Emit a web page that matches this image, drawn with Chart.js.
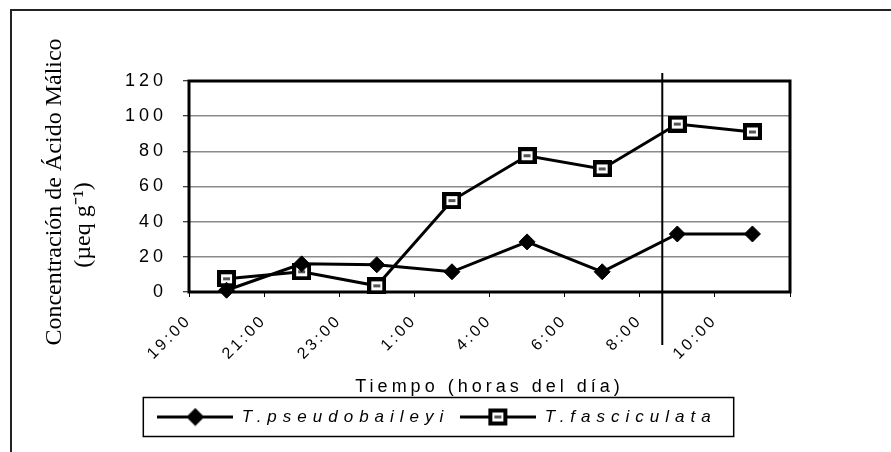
<!DOCTYPE html>
<html>
<head>
<meta charset="utf-8">
<script src="https://cdn.jsdelivr.net/npm/chart.js@4.4.0/dist/chart.umd.min.js"></script>
<style>
  html, body { margin: 0; padding: 0; background: #fff; overflow: hidden; }
  #frame { position: absolute; left: 10px; top: 9px; width: 1000px; height: 1000px;
           border-top: 2px solid #222; border-left: 2px solid #222; }
  #chart { position: absolute; left: 0; top: 0; }
</style>
</head>
<body>
<div id="frame"></div>
<canvas id="chart" width="891" height="452"></canvas>
<script>
// hours of the day (x categories)
const timeLabels = ['19:00', '21:00', '23:00', '1:00', '4:00', '6:00', '8:00', '10:00'];
// malic acid
const pseudobaileyi = [1, 16, 15.5, 11.5, 28.5, 11.5, 33, 33];
const fasciculata = [7.5, 11.5, 3.5, 52, 77.5, 70, 95.5, 91];
const yTicks = [0, 20, 40, 60, 80, 100, 120];
const seriesNames = ['T.pseudobaileyi', 'T.fasciculata'];
const yTitle = ['Concentración de Ácido Málico', '(µeq g⁻¹)'];
const xTitle = 'Tiempo (horas del día)';
// vertical marker between 8:00 and 10:00, in x scale units
const markerAt = 6.3;

Chart.defaults.font.family = '"Liberation Sans", Arial, sans-serif';
Chart.defaults.color = '#000';

// open square marker used by T.fasciculata
function squareMarker() {
    let c = document.createElement('canvas');
    c.width = 19; c.height = 17;
    let g = c.getContext('2d');
    g.fillStyle = '#000'; g.fillRect(0, 0, 19, 17);
    g.fillStyle = '#fff'; g.fillRect(4, 4, 11, 9);
    g.fillStyle = '#555'; g.fillRect(6, 7, 7, 3);
    return c;
}
const square = squareMarker();

// legend swatch: a piece of line with the marker on it
function legendIcon(marker) {
    let c = document.createElement('canvas');
    c.width = 76; c.height = 19;
    let g = c.getContext('2d');
    g.strokeStyle = '#000'; g.lineWidth = 3;
    g.beginPath(); g.moveTo(0, 9.5); g.lineTo(76, 9.5); g.stroke();
    if (marker === 'diamond') {
        g.fillStyle = '#000';
        g.beginPath();
        g.moveTo(29, 9.5); g.lineTo(38, 0.5); g.lineTo(47, 9.5); g.lineTo(38, 18.5);
        g.closePath(); g.fill();
    } else {
        g.drawImage(marker, 28, 1);
    }
    return c;
}
const legendIcons = [legendIcon('diamond'), legendIcon(square)];

function withSpacing(obj, name, spacing) {
    let orig = obj[name];
    obj[name] = function() {
        let prev = this.ctx.letterSpacing;
        this.ctx.letterSpacing = spacing;
        let r = orig.apply(this, arguments);
        this.ctx.letterSpacing = prev;
        return r;
    };
}

const decor = {
    id: 'decor',
    beforeLayout(chart) {
        chart.ctx.letterSpacing = '4px';
        if (chart.legend && !chart.legend._spaced) {
            withSpacing(chart.legend, 'fit', '6px');
            withSpacing(chart.legend, 'draw', '6px');
            chart.legend._spaced = true;
        }
    },
    beforeDraw(chart) {
        chart.ctx.letterSpacing = '4px';
        let xs = chart.scales.x;
        if (xs && !xs._spaced) {
            withSpacing(xs, 'drawLabels', '3px');
            xs._spaced = true;
        }
    },
    beforeDatasetsDraw(chart) {
        let ctx = chart.ctx, a = chart.chartArea;
        ctx.save();
        ctx.strokeStyle = '#000';
        ctx.lineWidth = 3;
        ctx.strokeRect(a.left, a.top, a.right - a.left, a.bottom - a.top);
        let x = chart.scales.x.getPixelForValue(markerAt);
        ctx.lineWidth = 2;
        ctx.beginPath();
        ctx.moveTo(x, a.top - 8);
        ctx.lineTo(x, a.bottom + 53);
        ctx.stroke();
        ctx.restore();
    },
    afterDraw(chart) {
        let ctx = chart.ctx;
        // box round the legend
        let boxes = chart.legend.legendHitBoxes;
        let first = boxes[0], last = boxes[boxes.length - 1];
        ctx.save();
        ctx.strokeStyle = '#000';
        ctx.lineWidth = 1.5;
        ctx.strokeRect(first.left - 14, first.top - 11,
            last.left + last.width + 17 - (first.left - 14), first.height + 22);
        // y axis title, serif, two lines
        ctx.letterSpacing = '0px';
        ctx.font = '24px "Liberation Serif", "Times New Roman", serif';
        ctx.fillStyle = '#000';
        ctx.textAlign = 'center';
        ctx.textBaseline = 'alphabetic';
        ctx.translate(61, 192);
        ctx.rotate(-Math.PI / 2);
        ctx.fillText(yTitle[0], 0, 0);
        ctx.rotate(Math.PI / 2);
        ctx.translate(29, 33);
        ctx.rotate(-Math.PI / 2);
        ctx.fillText(yTitle[1], 0, 0);
        ctx.restore();
    }
};

let ctx = document.getElementById('chart').getContext('2d');
let chart = new Chart(ctx, {
    type: 'line',
    data: {
        datasets: [{
            label: seriesNames[0],
            data: pseudobaileyi.map((v, i) => ({x: i + 0.5, y: v})),
            borderColor: '#000',
            borderWidth: 3,
            pointStyle: 'rectRot',
            pointRadius: 8,
            pointBackgroundColor: '#000',
            pointBorderColor: '#000',
            pointBorderWidth: 1,
            tension: 0,
            clip: false
        }, {
            label: seriesNames[1],
            data: fasciculata.map((v, i) => ({x: i + 0.5, y: v})),
            borderColor: '#000',
            borderWidth: 3,
            pointStyle: square,
            pointRadius: 9,
            tension: 0,
            clip: false
        }]
    },
    options: {
        responsive: false,
        animation: false,
        layout: {padding: {left: 84, right: 101, top: 81, bottom: 16.5}},
        plugins: {
            tooltip: {enabled: false},
            legend: {
                position: 'bottom',
                labels: {
                    usePointStyle: true,
                    pointStyleWidth: 76,
                    padding: 11,
                    color: '#000',
                    font: {size: 17, style: 'italic'},
                    generateLabels(chart) {
                        let items = Chart.defaults.plugins.legend.labels.generateLabels(chart);
                        items.forEach((it, i) => { it.pointStyle = legendIcons[i]; });
                        return items;
                    }
                }
            }
        },
        scales: {
            x: {
                type: 'linear',
                min: 0,
                max: timeLabels.length,
                afterFit(scale) { scale.height = 105.5; },
                border: {display: false},
                grid: {drawOnChartArea: false, drawTicks: true, tickLength: 5, tickColor: '#000', tickWidth: 1},
                ticks: {
                    stepSize: 1,
                    autoSkip: false,
                    minRotation: 45,
                    maxRotation: 45,
                    padding: 14,
                    color: '#000',
                    font: {size: 16},
                    callback: (v) => timeLabels[v] ?? ''
                },
                title: {display: true, text: xTitle, color: '#000', font: {size: 18}, padding: {top: 0, bottom: 0}}
            },
            y: {
                min: yTicks[0],
                max: yTicks[yTicks.length - 1],
                afterFit(scale) { scale.width = 105; },
                border: {display: false},
                grid: {
                    color: (c) => (c.tick.value === yTicks[0] || c.tick.value === yTicks[yTicks.length - 1]) ? 'rgba(0,0,0,0)' : '#8a8a8a',
                    lineWidth: 1.5,
                    tickLength: 6,
                    tickColor: '#000',
                    tickWidth: 1
                },
                ticks: {stepSize: yTicks[1] - yTicks[0], padding: 16, color: '#000', font: {size: 18}}
            }
        }
    },
    plugins: [decor]
});
</script>
</body>
</html>
